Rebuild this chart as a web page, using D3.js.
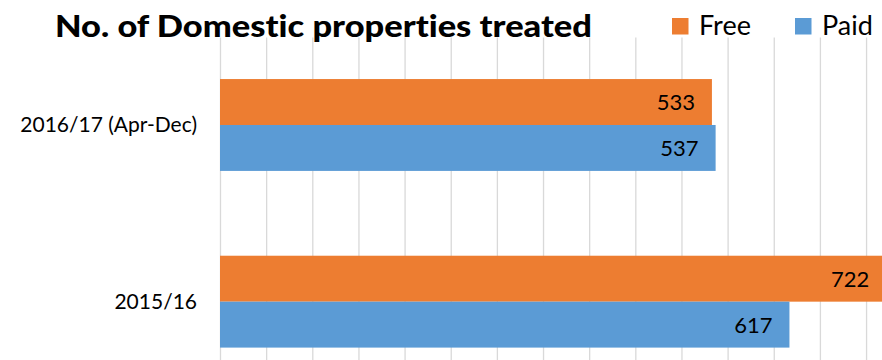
<!DOCTYPE html>
<html>
<head>
<meta charset="utf-8">
<script src="https://cdn.jsdelivr.net/npm/d3@7"></script>
<style>
  html, body { margin: 0; padding: 0; background: #fff; overflow: hidden; }
  text { font-family: Lato, "Open Sans", sans-serif; fill: #000; font-variant-ligatures: none; font-feature-settings: "liga" 0, "dlig" 0; }
</style>
</head>
<body>
<svg id="chart" width="882" height="360"></svg>
<script>
const title = "No. of Domestic properties treated";
const categories = ["2016/17 (Apr-Dec)", "2015/16"];
const seriesNames = ["Free", "Paid"];
const freeValues = [533, 722];
const paidValues = [537, 617];
const seriesColors = ["#ED7D31", "#5B9BD5"];

const svg = d3.select("#chart");
const W = 882, H = 360;

const x = d3.scaleLinear().domain([0, 750]).range([220, 912.2]);
const y = d3.scaleBand().domain(categories).range([36.65, 390]).paddingInner(0.48).paddingOuter(0.24);
const y1 = d3.scaleBand().domain(seriesNames).range([0, y.bandwidth()]);
const color = d3.scaleOrdinal().domain(seriesNames).range(seriesColors);

// gridlines
svg.append("g")
  .attr("transform", `translate(0,${H})`)
  .call(d3.axisBottom(x).ticks(15).tickSize(-(H - 37.5)).tickFormat(""))
  .call(g => g.select(".domain").remove())
  .call(g => g.selectAll(".tick line").attr("stroke", "#D9D9D9").attr("stroke-width", 1.3));

const rows = categories.map((c, i) => ({cat: c, vals: [
  {name: "Free", v: freeValues[i]},
  {name: "Paid", v: paidValues[i]}
]}));

const grp = svg.append("g").selectAll("g").data(rows).join("g")
  .attr("transform", d => `translate(0,${y(d.cat)})`);

grp.selectAll("rect").data(d => d.vals).join("rect")
  .attr("x", x(0))
  .attr("y", d => y1(d.name))
  .attr("width", d => x(d.v) - x(0))
  .attr("height", y1.bandwidth())
  .attr("fill", d => color(d.name));

grp.selectAll("text.val").data(d => d.vals).join("text")
  .attr("class", "val")
  .attr("x", d => x(d.v) - 17)
  .attr("y", d => y1(d.name) + y1.bandwidth() / 2 + 8)
  .attr("text-anchor", "end")
  .style("font-size", "22px")
  .text(d => d.v);

// category labels
svg.append("g").selectAll("text").data(categories).join("text")
  .attr("x", 197)
  .attr("y", d => y(d) + y.bandwidth() / 2 + 7.5)
  .attr("text-anchor", "end")
  .style("font-size", "21px")
  .text(d => d);

// title
svg.append("text")
  .attr("x", 55).attr("y", 36.7)
  .attr("textLength", 537).attr("lengthAdjust", "spacingAndGlyphs")
  .style("font-size", "31px").style("font-weight", "900")
  .text(title);

// legend
const legendX = [672, 795];
const leg = svg.append("g").selectAll("g").data(seriesNames).join("g")
  .attr("transform", (d, i) => `translate(${legendX[i]},0)`);
leg.append("rect").attr("x", 0).attr("y", 18).attr("width", 16.5).attr("height", 16.5)
  .attr("fill", d => color(d));
leg.append("text").attr("x", 27).attr("y", 35)
  .style("font-size", "27px")
  .text(d => d);
</script>
</body>
</html>
